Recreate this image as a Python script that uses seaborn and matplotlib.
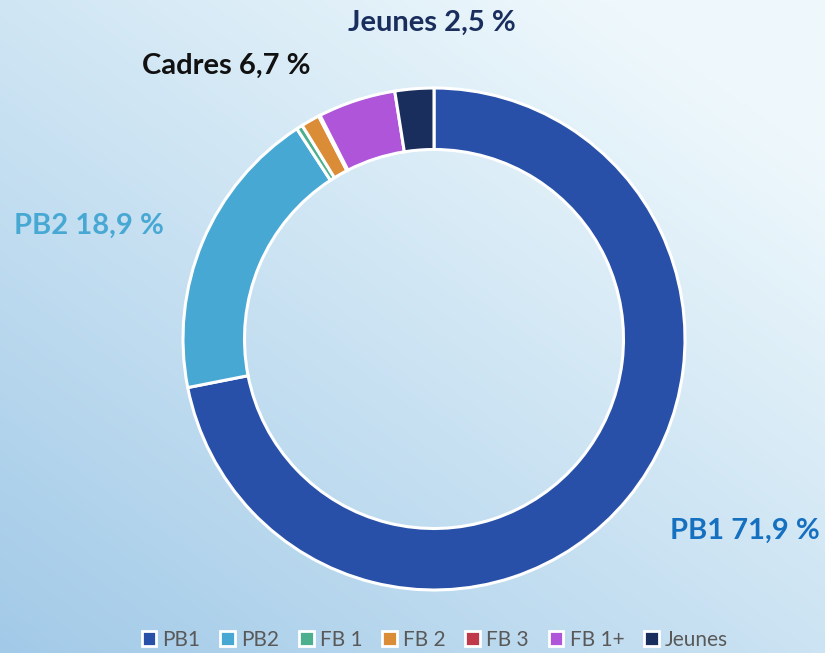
import numpy as np
import matplotlib
matplotlib.use("Agg")
import matplotlib.pyplot as plt
from matplotlib.patches import Patch
from matplotlib.colors import to_rgb
import seaborn as sns

# Share of each category (%)
categories = ["PB1", "PB2", "FB 1", "FB 2", "FB 3", "FB 1+", "Jeunes"]
values = [71.9, 18.9, 0.4, 1.2, 0.1, 5.0, 2.5]
colors = ["#2850A8", "#47A8D3", "#4CB08E", "#DB8C36", "#C0394A", "#AE55DA", "#1A2E5E"]

# Group labels
label_pb1 = "PB1 71,9 %"
label_pb2 = "PB2 18,9 %"
label_cadres = "Cadres 6,7 %"
label_jeunes = "Jeunes 2,5 %"

sns.set_theme(style="white")
plt.rcParams["font.family"] = ["Lato", "DejaVu Sans"]

W, H = 825, 653
fig = plt.figure(figsize=(W / 100, H / 100), dpi=100)
ax = fig.add_axes([0, 0, 1, 1])

cx, cy, R = 434, 339, 251
xlim = (-cx / R, (W - cx) / R)
ylim = (-(H - cy) / R, cy / R)

# Diagonal background gradient: darker bottom-left, lighter top-right
nx, ny = 200, 160
gx = np.linspace(0, 1, nx)
gy = np.linspace(0, 1, ny)
X, Y = np.meshgrid(gx, gy)
t = np.clip(0.55 * X + 0.6 * Y, 0, 1)
c0 = np.array(to_rgb("#A2CAE8"))
c1 = np.array(to_rgb("#EEF8FC"))
img = c0[None, None, :] * (1 - t[..., None]) + c1[None, None, :] * t[..., None]
ax.imshow(img, extent=(xlim[0], xlim[1], ylim[0], ylim[1]), origin="lower",
          aspect="auto", zorder=0, interpolation="bilinear")

wedges, _ = ax.pie(values, colors=colors, startangle=90, counterclock=False,
                   radius=1.0,
                   wedgeprops=dict(width=0.245, edgecolor="white", linewidth=2.2))
for w in wedges:
    w.set_zorder(2)

ax.set_xlim(*xlim)
ax.set_ylim(*ylim)
ax.set_aspect("auto")
ax.axis("off")

def px(x, y):
    return ((x - cx) / R, (cy - y) / R)

font_lbl = dict(fontsize=21, fontweight="bold", ha="center", va="center")
ax.text(*px(432, 23), label_jeunes, color="#1A2E5E", **font_lbl)
ax.text(*px(226, 66), label_cadres, color="#111111", **font_lbl)
ax.text(*px(89, 226), label_pb2, color="#47A8D3", **font_lbl)
ax.text(*px(745, 531), label_pb1, color="#1670C0", **font_lbl)

handles = [Patch(facecolor=c, edgecolor="white", linewidth=2) for c in colors]
leg = fig.legend(handles, categories, loc="center", bbox_to_anchor=(0.527, 1 - 640 / H),
                 ncol=len(categories), frameon=False, fontsize=15,
                 handlelength=0.7, handleheight=0.7, handletextpad=0.3,
                 columnspacing=0.95, borderaxespad=0)
for txt in leg.get_texts():
    txt.set_color("#595959")

fig.savefig("out.png", dpi=100)
